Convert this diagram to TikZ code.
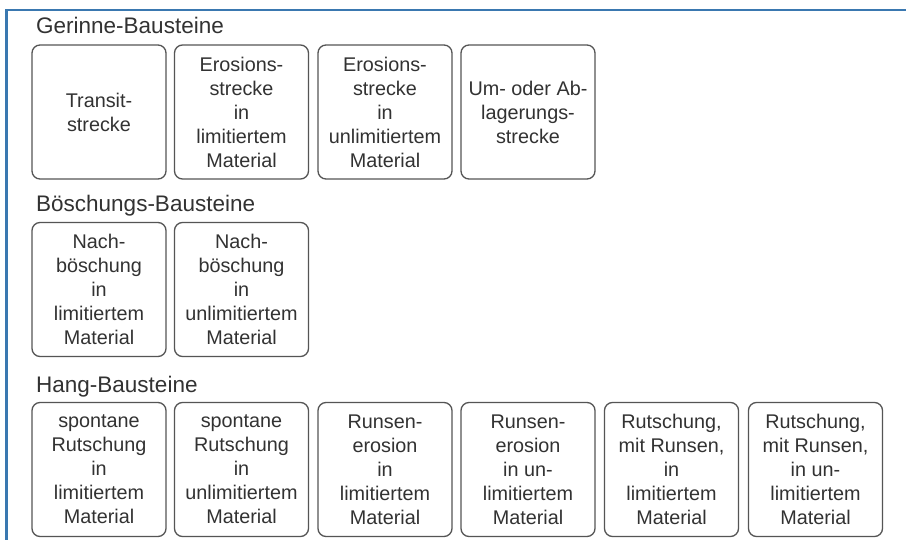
\documentclass[tikz,border=0pt]{standalone}
\usepackage{fontspec}
\setmainfont{Liberation Sans}
\definecolor{frameblue}{RGB}{58,120,176}
\definecolor{boxline}{RGB}{85,85,85}
\definecolor{txt}{RGB}{50,50,50}
\begin{document}
\begin{tikzpicture}[x=1pt,y=1pt,
  bst/.style={draw=boxline, line width=1.3pt, rounded corners=8pt,
    minimum width=134pt, minimum height=134pt, inner sep=0pt,
    align=center, text=txt, font=\fontsize{19.8}{24}\selectfont},
  grouptitle/.style={anchor=base west, inner sep=0pt, text=txt,
    font=\fontsize{22.5}{26}\selectfont}]
\useasboundingbox (0,0) rectangle (906,-540);
\fill[white] (0,0) rectangle (906,-540);
% frame
\draw[frameblue, line width=2.6pt] (6.5,-540) -- (6.5,-10) -- (906,-10);
% titles
\node[grouptitle] (t1) at (36,-34) {Gerinne-Bausteine};
\node[grouptitle] (t2) at (36,-212) {Böschungs-Bausteine};
\node[grouptitle] (t3) at (36,-392) {Hang-Bausteine};
% row 1
\node[bst] (g1) at (99,-112) {Transit-\\strecke};
\node[bst] (g2) at (241.5,-112) {Erosions-\\strecke\\in\\limitiertem\\Material};
\node[bst] (g3) at (385,-112) {Erosions-\\strecke\\in\\unlimitiertem\\Material};
\node[bst] (g4) at (528,-112) {Um- oder Ab-\\lagerungs-\\strecke};
% row 2
\node[bst] (b1) at (99,-289.5) {Nach-\\böschung\\in\\limitiertem\\Material};
\node[bst] (b2) at (241.5,-289.5) {Nach-\\böschung\\in\\unlimitiertem\\Material};
% row 3
\node[bst] (h1) at (99,-469.5) {spontane\\Rutschung\\in\\limitiertem\\Material};
\node[bst] (h2) at (241.5,-469.5) {spontane\\Rutschung\\in\\unlimitiertem\\Material};
\node[bst] (h3) at (385,-469.5) {Runsen-\\erosion\\in\\limitiertem\\Material};
\node[bst] (h4) at (528,-469.5) {Runsen-\\erosion\\in un-\\limitiertem\\Material};
\node[bst] (h5) at (671.5,-469.5) {Rutschung,\\mit Runsen,\\in\\limitiertem\\Material};
\node[bst] (h6) at (815.5,-469.5) {Rutschung,\\mit Runsen,\\in un-\\limitiertem\\Material};
\end{tikzpicture}
\end{document}
